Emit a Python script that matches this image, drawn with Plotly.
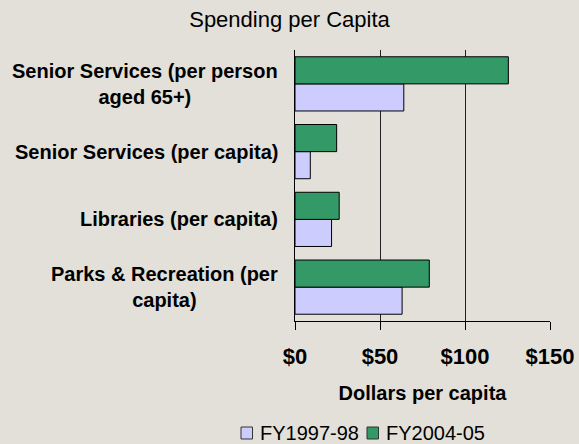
import plotly.graph_objects as go

# Spending categories, listed top to bottom
categories = [
    "Senior Services (per person<br>aged 65+)",
    "Senior Services (per capita)",
    "Libraries (per capita)",
    "Parks & Recreation (per<br>capita)",
]
series_names = ["FY1997-98", "FY2004-05"]
fy1997_98 = [64, 9, 21.5, 63]
fy2004_05 = [125.5, 24.5, 26, 79]

x_ticks = [0, 50, 100, 150]
x_tick_labels = ["<b>$0</b>", "<b>$50</b>", "<b>$100</b>", "<b>$150</b>"]

BG = "#e3e0da"
FONT = "Liberation Sans, Arial, sans-serif"
COLORS = ["#ccccff", "#339966"]

W, H = 579, 444
L, R, T, B = 295, 29, 50, 123
PW, PH = W - L - R, H - T - B


def px_to_paper(px, py):
    return (px - L) / PW, (H - B - py) / PH


fig = go.Figure()
for name, vals, col in zip(series_names, [fy1997_98, fy2004_05], COLORS):
    fig.add_trace(go.Bar(
        name=name, y=categories, x=vals, orientation="h",
        marker=dict(color=col, line=dict(color="#000000", width=1)),
        showlegend=False,
    ))

# Category labels as centred multi-line annotations left of the axis
for cat in categories:
    fig.add_annotation(
        x=0, xref="paper", y=cat, yref="y", text="<b>%s</b>" % cat,
        showarrow=False, xanchor="right", yanchor="middle", align="center",
        xshift=-15, font=dict(family=FONT, size=20, color="#000000"),
    )

# Legend row below the axis title: swatch + series name
legend_x = [241, 367]
legend_y = 433
for name, col, lx in zip(series_names, COLORS, legend_x):
    x0, y0 = px_to_paper(lx, legend_y + 6)
    x1, y1 = px_to_paper(lx + 11.5, legend_y - 6)
    fig.add_shape(type="rect", xref="paper", yref="paper",
                  x0=x0, y0=y0, x1=x1, y1=y1,
                  fillcolor=col, line=dict(color="#333333", width=1))
    tx, ty = px_to_paper(lx + 17, legend_y)
    fig.add_annotation(x=tx, y=ty, xref="paper", yref="paper", text=name,
                       showarrow=False, xanchor="left", yanchor="middle",
                       font=dict(family=FONT, size=20, color="#000000"))

fig.update_layout(
    width=W, height=H,
    margin=dict(l=L, r=R, t=T, b=B, autoexpand=False),
    paper_bgcolor=BG, plot_bgcolor=BG,
    barmode="group", bargap=0.2, bargroupgap=0,
    font=dict(family=FONT, color="#000000"),
    showlegend=False,
    title=dict(text="Spending per Capita", x=0.5, xanchor="center",
               y=1 - 19 / H, yanchor="middle", font=dict(size=22)),
    xaxis=dict(
        range=[0, 150], tickvals=x_ticks, ticktext=x_tick_labels,
        tickfont=dict(size=22), showgrid=True, gridcolor="#222222", gridwidth=1,
        showline=True, linecolor="#000000", linewidth=1,
        ticks="outside", ticklen=8, tickcolor="#000000",
        ticklabelstandoff=8,
        zeroline=False,
        title=dict(text="<b>Dollars per capita</b>", font=dict(size=20), standoff=17),
    ),
    yaxis=dict(
        categoryorder="array", categoryarray=list(reversed(categories)),
        showticklabels=False, showgrid=False, zeroline=False,
        showline=True, linecolor="#000000", linewidth=1,
    ),
)

fig.write_html("out.html")
